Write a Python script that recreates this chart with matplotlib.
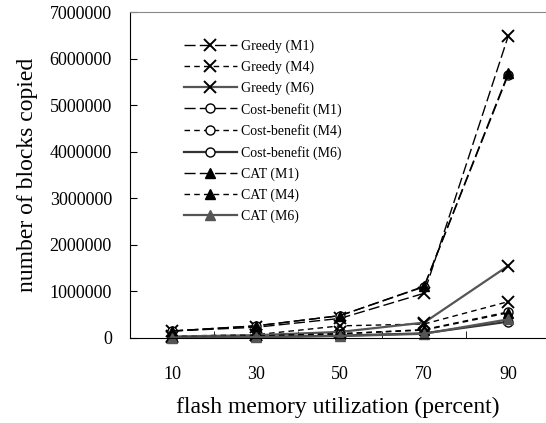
import matplotlib
matplotlib.use("Agg")
import matplotlib.pyplot as plt
import numpy as np

plt.rcParams['font.family'] = ['Liberation Serif', 'DejaVu Serif']

utilization = ['10', '30', '50', '70', '90']

greedy_m1 = [150000, 230000, 420000, 960000, 6480000]
greedy_m4 = [40000, 70000, 260000, 300000, 780000]
greedy_m6 = [30000, 60000, 130000, 330000, 1550000]
cb_m1 = [150000, 260000, 480000, 1100000, 5650000]
cb_m4 = [20000, 40000, 90000, 180000, 560000]
cb_m6 = [10000, 20000, 50000, 100000, 350000]
cat_m1 = [150000, 260000, 480000, 1110000, 5680000]
cat_m4 = [20000, 40000, 90000, 170000, 540000]
cat_m6 = [10000, 20000, 40000, 90000, 400000]

series = [
    ('Greedy (M1)', greedy_m1, 'x', 'black', 'black', (0, (8, 3))),
    ('Greedy (M4)', greedy_m4, 'x', 'black', 'black', (0, (4, 3))),
    ('Greedy (M6)', greedy_m6, 'x', '#555555', 'black', '-'),
    ('Cost-benefit (M1)', cb_m1, 'o', 'black', 'white', (0, (8, 3))),
    ('Cost-benefit (M4)', cb_m4, 'o', 'black', 'white', (0, (4, 3))),
    ('Cost-benefit (M6)', cb_m6, 'o', '#333333', 'white', '-'),
    ('CAT (M1)', cat_m1, '^', 'black', 'black', (0, (8, 3))),
    ('CAT (M4)', cat_m4, '^', 'black', 'black', (0, (4, 3))),
    ('CAT (M6)', cat_m6, '^', '#555555', '#555555', '-'),
]

fig = plt.figure(figsize=(5.46, 4.23), dpi=100)
ax = fig.add_axes([0.238, 0.201, 0.762, 0.7706])

x = np.arange(len(utilization))
for label, vals, mk, col, face, ls in series:
    lw = 1.6 if ls == '-' else 1.0
    ax.plot(x, vals, linestyle=ls, color=col, linewidth=lw, marker=mk,
            markersize=8 if mk == 'x' else 6.5, markerfacecolor=face,
            markeredgecolor='black' if face != '#555555' else '#555555',
            markeredgewidth=1.4 if mk == 'x' else 1.0, label=label, clip_on=False)

ax.set_xlim(-0.5, 4.45)
ax.set_ylim(0, 7000000)
ax.set_yticks(np.arange(0, 7000001, 1000000))
ax.set_yticklabels([f'{v:d}' for v in range(0, 7000001, 1000000)])
ax.set_xticks(x)
ax.set_xticklabels(utilization)
ax.set_xticks(x[:-1] + 0.5, minor=True)
ax.tick_params(axis='x', which='major', length=0, pad=20, labelsize=13)
ax.tick_params(axis='x', which='minor', direction='in', length=5)
ax.tick_params(axis='y', direction='in', length=5, pad=13, labelsize=13)

ax.spines['right'].set_visible(False)
ax.spines['top'].set_color('#888888')

ax.set_xlabel('flash memory utilization (percent)', fontsize=17, labelpad=10)
ax.set_ylabel('number of blocks copied', fontsize=17, labelpad=8)

ax.legend(loc='upper left', bbox_to_anchor=(0.1, 0.955), frameon=False,
          fontsize=10, labelspacing=0.55, handlelength=3.8, handletextpad=0.3)

plt.savefig('out.png', dpi=100)
